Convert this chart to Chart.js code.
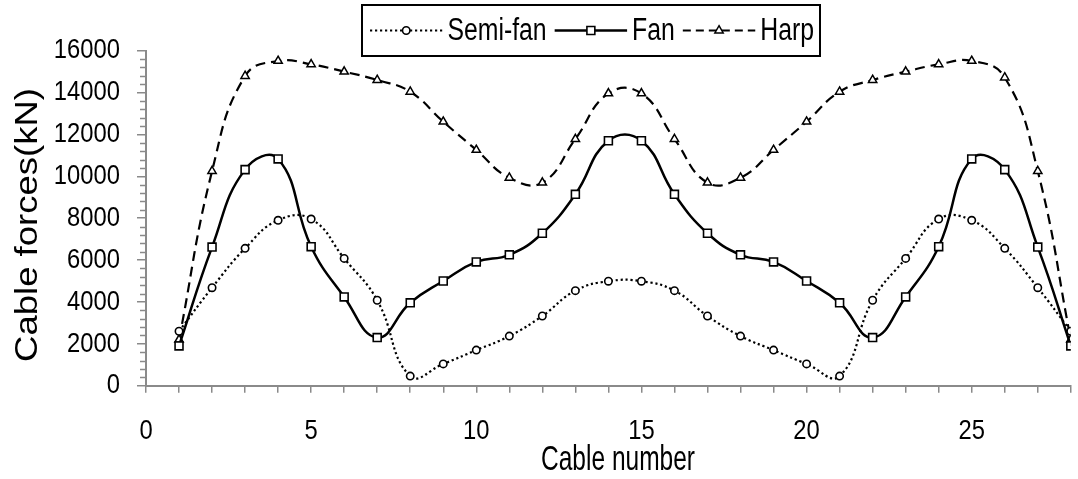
<!DOCTYPE html>
<html><head><meta charset="utf-8">
<script src="https://cdn.jsdelivr.net/npm/chart.js@4.4.0/dist/chart.umd.min.js"></script>
<style>html,body{margin:0;padding:0;background:#fff;} #wrap{width:1078px;height:479px;position:relative;}</style>
</head><body><div id="wrap"><canvas id="c" width="1078" height="479"></canvas></div>
<script>
const cableNumbers = [1,2,3,4,5,6,7,8,9,10,11,12,13,14,15,16,17,18,19,20,21,22,23,24,25,26,27,28];
const semiFan = [2600,4680,6560,7900,7960,6080,4080,460,1040,1700,2370,3330,4540,4990,4990,4540,3330,2370,1700,1040,460,4080,6080,7960,7900,6560,4680,2600];
const fan = [1900,6620,10320,10830,6640,4240,2300,3960,5000,5910,6250,7280,9140,11700,11700,9140,7280,6250,5910,5000,3960,2300,4240,6640,10830,10320,6620,1900];
const harp = [2200,10250,14790,15510,15350,15000,14600,14040,12610,11260,9930,9700,11780,13960,13960,11780,9700,9930,11260,12610,14040,14600,15000,15350,15510,14720,10250,2200];
const seriesNames = ['Semi-fan','Fan','Harp'];
const xTickLabels = [0,5,10,15,20,25];
const yTickLabels = [0,2000,4000,6000,8000,10000,12000,14000,16000];
const xTitle = 'Cable number';
const yTitle = 'Cable forces(kN)';

const FONT = "'Liberation Sans',Arial,sans-serif";
const AXIS = '#8a8a8a';

function pts(arr){ return cableNumbers.map((x,i)=>({x:x,y:arr[i]})); }

const common = {borderColor:'#000', pointBorderColor:'#000', pointBackgroundColor:'#fff', fill:false, tension:0.45};
const datasets = [
  Object.assign({}, common, {label:seriesNames[0], data:pts(semiFan), borderWidth:2.2, borderDash:[2.2,2.8], pointStyle:'circle', pointRadius:3.7, pointBorderWidth:1.6}),
  Object.assign({}, common, {label:seriesNames[1], data:pts(fan), borderWidth:2.5, borderDash:[], pointStyle:'rect', pointRadius:5.6, pointBorderWidth:1.6}),
  Object.assign({}, common, {label:seriesNames[2], data:pts(harp), borderWidth:2.2, borderDash:[10,6], pointStyle:'triangle', pointRadius:4.8, pointBorderWidth:1.5})
];

/* narrow text: horizontally condensed drawing of canvas text */
function patchCtx(ctx){
  if (ctx.__patched) return;
  const orig = ctx.fillText;
  ctx.fillText = function(t,x,y,mw){
    const sx = this.__sx || 1;
    if (sx === 1) return (mw===undefined) ? orig.call(this,t,x,y) : orig.call(this,t,x,y,mw);
    this.save(); this.translate(x,y); this.scale(sx,1);
    if (mw===undefined) orig.call(this,t,0,0); else orig.call(this,t,0,0,mw/sx);
    this.restore();
  };
  ctx.__patched = true;
}

function drawMarker(ctx, style, x, y, r){
  ctx.beginPath();
  if(style==='circle'){ ctx.arc(x,y,r,0,Math.PI*2); }
  else if(style==='rect'){ const s=r*Math.SQRT1_2; ctx.rect(x-s,y-s,2*s,2*s); }
  else if(style==='triangle'){
    let a=0; ctx.moveTo(x+Math.sin(a)*r, y-Math.cos(a)*r);
    a+=2*Math.PI/3; ctx.lineTo(x+Math.sin(a)*r, y-Math.cos(a)*r);
    a+=2*Math.PI/3; ctx.lineTo(x+Math.sin(a)*r, y-Math.cos(a)*r);
    ctx.closePath();
  }
  ctx.fill(); ctx.stroke();
}

const narrowPlugin = {
  id:'narrowText',
  beforeDraw(chart){ patchCtx(chart.ctx); chart.ctx.__sx = 0.85; }
};

const titlesPlugin = {
  id:'axisTitles',
  afterDraw(chart){
    const ctx = chart.ctx;
    ctx.save();
    ctx.fillStyle = '#000';
    ctx.__sx = 0.7;
    ctx.font = "35px " + FONT;
    ctx.textAlign = 'center'; ctx.textBaseline = 'alphabetic';
    ctx.fillText(xTitle, 618, 470);
    ctx.__sx = 1;
    ctx.save();
    ctx.translate(37, 225); ctx.rotate(-Math.PI/2); ctx.scale(1, 0.88);
    ctx.font = "36.5px " + FONT;
    ctx.textAlign = 'center'; ctx.textBaseline = 'alphabetic';
    ctx.fillText(yTitle, 0, 0);
    ctx.restore();
    ctx.restore();
  }
};

const legendDash = [[2.2,2.8],[],[8,5]];
const legendPlugin = {
  id:'boxLegend',
  afterDraw(chart){
    const ctx = chart.ctx;
    const bx0=362, by0=5, bx1=820, by1=56, cy=(by0+by1)/2;
    ctx.save();
    ctx.fillStyle='#fff'; ctx.fillRect(bx0,by0,bx1-bx0,by1-by0);
    ctx.strokeStyle='#000'; ctx.lineWidth=2; ctx.strokeRect(bx0,by0,bx1-bx0,by1-by0);
    const sx = 0.8;
    ctx.font = "31px " + FONT;
    ctx.textBaseline='middle'; ctx.textAlign='left';
    const ws = chart.data.datasets.map(d=>ctx.measureText(d.label).width*sx);
    const padL=8, padR=6, g1=5, g2=8;
    const L = ((bx1-bx0) - padL - padR - 3*g1 - 2*g2 - ws.reduce((a,b)=>a+b,0))/3;
    let x = bx0 + padL;
    chart.data.datasets.forEach((d,i)=>{
      ctx.strokeStyle='#000'; ctx.lineWidth=d.borderWidth; ctx.setLineDash(legendDash[i]);
      ctx.beginPath(); ctx.moveTo(x,cy); ctx.lineTo(x+L,cy); ctx.stroke();
      ctx.setLineDash([]); ctx.lineWidth=d.pointBorderWidth; ctx.fillStyle='#fff';
      drawMarker(ctx, d.pointStyle, x+L/2, cy, d.pointRadius);
      x += L + g1;
      ctx.fillStyle='#000';
      ctx.__sx = sx; ctx.fillText(d.label, x, cy+1); ctx.__sx = 1;
      x += ws[i] + g2;
    });
    ctx.restore();
  }
};

const minorTicks = {
  id:'minorTicks',
  afterDraw(chart){
    const ctx=chart.ctx, ys=chart.scales.y;
    ctx.save(); ctx.strokeStyle=AXIS; ctx.lineWidth=1.5;
    for(let v=ys.min; v<=ys.max; v+=400){
      if(v%2000===0) continue;
      const py=Math.round(ys.getPixelForValue(v))+0.5;
      ctx.beginPath(); ctx.moveTo(ys.right-6,py); ctx.lineTo(ys.right,py); ctx.stroke();
    }
    ctx.restore();
  }
};

new Chart(document.getElementById('c'), {
  type:'line',
  data:{datasets:datasets},
  plugins:[narrowPlugin, minorTicks, titlesPlugin, legendPlugin],
  options:{
    responsive:false, animation:false, devicePixelRatio:1,
    layout:{padding:{top:50.7,right:3,left:0,bottom:0}},
    plugins:{legend:{display:false}, tooltip:{enabled:false}},
    scales:{
      x:{type:'linear', min:0, max:28,
        afterFit(s){ s.height = 93.3; s.paddingLeft = 0; s.paddingRight = 0; },
        border:{color:AXIS, width:2},
        grid:{drawOnChartArea:false, drawTicks:true, tickLength:7, color:AXIS, lineWidth:1.5},
        ticks:{stepSize:1, autoSkip:false, maxRotation:0, padding:22, color:'#000', font:{family:FONT, size:28},
          callback:(v)=> xTickLabels.includes(v) ? String(v) : ''},
        title:{display:false}
      },
      y:{min:0, max:16000,
        afterFit(s){ s.width = 146; },
        border:{color:AXIS, width:2},
        grid:{drawOnChartArea:false, drawTicks:true, tickLength:9, color:AXIS, lineWidth:1.5},
        ticks:{stepSize:2000, autoSkip:false, padding:17, color:'#000', font:{family:FONT, size:28},
          callback:(v)=> yTickLabels.includes(v) ? String(v) : ''},
        title:{display:false}
      }
    }
  }
});
</script></body></html>
